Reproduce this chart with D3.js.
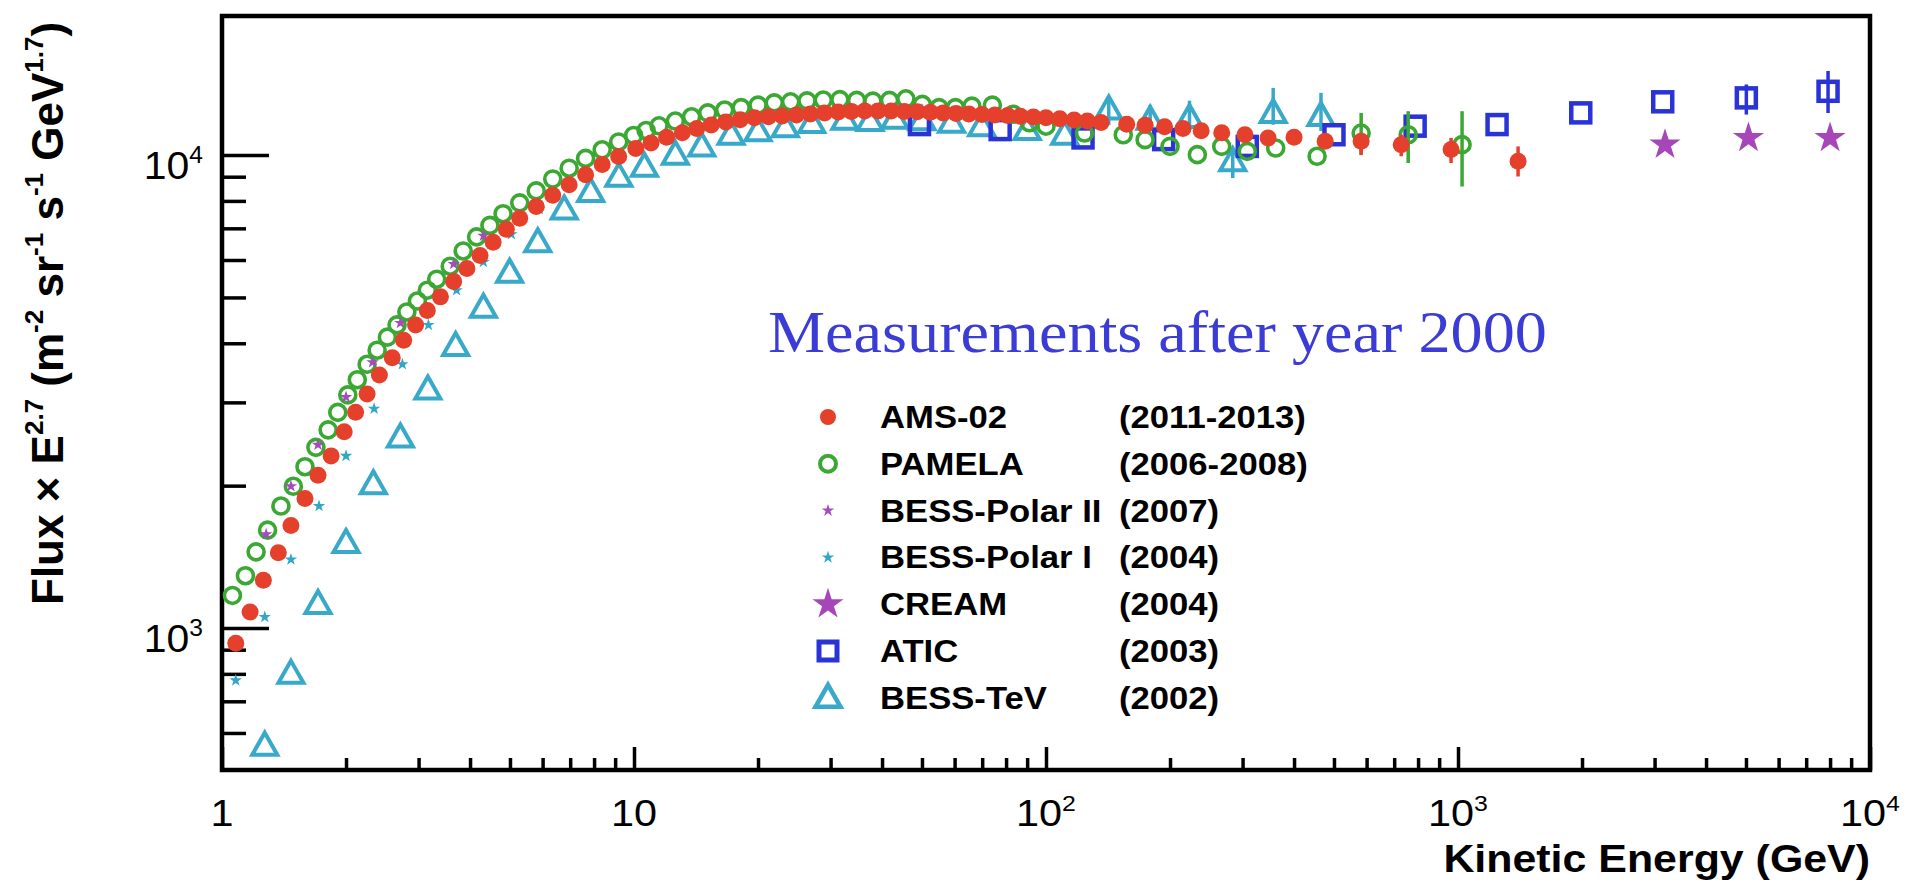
<!DOCTYPE html>
<html>
<head>
<meta charset="utf-8">
<script src="https://cdn.jsdelivr.net/npm/d3@7"></script>
<style>
  html, body { margin: 0; padding: 0; background: #fff; overflow: hidden; }
  svg { display: block; }
  text { font-family: "Liberation Sans", Arial, Helvetica, sans-serif; }
  text.serif { font-family: "Liberation Serif", "Times New Roman", Times, serif; }
</style>
</head>
<body>
<script>
// ---- data (kinetic energy in GeV, flux x E^2.7) ----
var amsE = [1.08, 1.17, 1.26, 1.37, 1.47, 1.59, 1.71, 1.84, 1.98, 2.11,
    2.25, 2.41, 2.59, 2.76, 2.95, 3.15, 3.39, 3.65, 3.93, 4.23,
    4.55, 4.90, 5.28, 5.79, 6.35, 6.96, 7.63, 8.37, 9.18, 10.1,
    11.0, 12.0, 13.1, 14.2, 15.4, 16.7, 18.1, 19.6, 21.2, 22.9,
    24.8, 26.8, 29.0, 31.3, 33.7, 36.3, 39.1, 42.1, 45.3, 48.7,
    52.4, 56.3, 60.5, 65.0, 69.9, 75.1, 80.7, 86.7, 93.2, 100,
    108, 117, 126, 136, 157, 174, 194, 215, 238,
    267, 304, 346, 400, 476, 582, 728, 962, 1399];
var amsF = [929, 1081, 1262, 1442, 1647, 1879, 2103, 2312, 2600, 2860,
    3125, 3426, 3727, 4058, 4372, 4693, 5014, 5405, 5757, 6134,
    6541, 6970, 7350, 7785, 8225, 8650, 9090, 9550, 9935, 10320,
    10600, 10900, 11150, 11380, 11580, 11750, 11880, 11990, 12050, 12100,
    12150, 12220, 12280, 12330, 12370, 12390, 12400, 12390, 12370, 12350,
    12320, 12280, 12250, 12210, 12180, 12150, 12120, 12080, 12040, 11990,
    11930, 11860, 11800, 11720, 11620, 11560, 11480, 11380, 11260,
    11150, 11040, 10870, 10900, 10690, 10690, 10520, 10270, 9700];
var amsErrE = [582, 728, 962, 1399];
var amsErrLo = [10000, 9940, 9620, 9010];
var amsErrHi = [11130, 11040, 10870, 10430];

var pamelaE = [1.06, 1.14, 1.21, 1.29, 1.39, 1.49, 1.59, 1.69, 1.81, 1.91,
    2.02, 2.13, 2.25, 2.38, 2.52, 2.66, 2.81, 2.98, 3.15, 3.32,
    3.58, 3.85, 4.15, 4.47, 4.81, 5.28, 5.79, 6.35, 6.96, 7.63,
    8.37, 9.18, 9.98, 10.7, 11.5, 12.6, 13.8, 15.1, 16.6, 18.2, 20.0,
    21.9, 24.0, 26.3, 28.8, 31.6, 34.7, 38.0, 41.7, 45.7, 50.1,
    55.0, 60.3, 66.1, 74.1, 83.2, 91.2, 100, 124, 154, 174,
    200, 233, 267, 308, 361, 455, 582, 757, 1023];
var pamelaF = [1172, 1290, 1449, 1611, 1811, 1994, 2193, 2410, 2624, 2857,
    3111, 3350, 3611, 3867, 4121, 4375, 4659, 4913, 5180, 5464,
    5821, 6270, 6714, 7100, 7516, 7925, 8400, 8900, 9380, 9840,
    10260, 10660, 11000, 11270, 11530, 11800, 12050, 12280, 12450, 12600, 12750,
    12890, 12960, 13020, 13070, 13100, 13050, 13000, 13050, 13150, 12800,
    12600, 12600, 12690, 12750, 12200, 11700, 11510, 11130, 11040, 10780,
    10430, 10020, 10430, 10180, 10350, 9940, 11130, 11040, 10520];
var pamelaErrE = [582, 757, 1023];
var pamelaErrLo = [10015, 9620, 8580];
var pamelaErrHi = [12280, 12380, 12380];

var polar2E = [1.28, 1.47, 1.71, 2.0, 2.32, 2.71, 3.65, 4.31];
var polar2F = [1579, 1994, 2440, 3078, 3648, 4416, 5885, 6750];

var polar1E = [1.08, 1.27, 1.47, 1.72, 2.0, 2.34, 2.74, 3.17, 3.71, 4.31, 5.04, 5.89];
var polar1F = [775, 1055, 1396, 1811, 2312, 2909, 3611, 4372, 5180, 5940, 6800, 7680];

var creamE = [3180, 5070, 8000];
var creamF = [10520, 10870, 10870];

var aticE = [49.3, 77.4, 123, 193, 308, 500, 787, 1244, 1986, 3140, 5010, 7910];
var aticF = [11600, 11320, 10870, 10780, 10430, 11040, 11510, 11600, 12280, 12960, 13210, 13640];
var aticErrE = [5010, 7910];
var aticErrLo = [12180, 12270];
var aticErrHi = [14100, 15060];

var tevE = [1.27, 1.47, 1.71, 2.0, 2.33, 2.71, 3.16, 3.69, 4.31, 4.99,
    5.84, 6.77, 7.85, 9.19, 10.6, 12.6, 14.6, 17.2, 20.0, 23.3,
    27.0, 32.5, 37.4, 43.0, 50.0, 59.0, 69.8, 90.0, 111, 142,
    179, 223, 284, 356, 465];
var tevF = [564, 800, 1124, 1513, 2014, 2529, 3193, 3947, 4757, 5636,
    6542, 7673, 8354, 8993, 9450, 10020, 10430, 11040, 11230, 11450,
    11690, 11880, 11800, 11940, 11850, 11700, 11510, 11300, 11040, 12480,
    11880, 11980, 9700, 12280, 12100];
var tevErrE = [142, 179, 223, 284, 356, 465];
var tevErrLo = [11580, 11240, 11300, 8940, 11590, 11240];
var tevErrHi = [13340, 12770, 13030, 10250, 13870, 13540];

var legendNames = ["AMS-02", "PAMELA", "BESS-Polar II", "BESS-Polar I", "CREAM", "ATIC", "BESS-TeV"];
var legendYears = ["(2011-2013)", "(2006-2008)", "(2007)", "(2004)", "(2004)", "(2003)", "(2002)"];

var xMajor = [1, 10, 100, 1000, 10000];
var yMajor = [1000, 10000];

// ---- layout ----
var W = 1907, H = 884;
var plot = { left: 222, right: 1870, top: 16, bottom: 770 };

var svg = d3.select("body").append("svg")
    .attr("width", W)
    .attr("height", H);

var x = d3.scaleLog().domain([1, 1e4]).range([plot.left, plot.right]);
var y = d3.scaleLog().domain([501, 19680]).range([plot.bottom, plot.top]);

svg.append("clipPath").attr("id", "plotclip")
    .append("rect")
    .attr("x", plot.left).attr("y", plot.top)
    .attr("width", plot.right - plot.left).attr("height", plot.bottom - plot.top);

// minor tick values
var xMinor = [];
[1, 10, 100, 1000].forEach(function (d) {
    for (var k = 2; k <= 9; k++) xMinor.push(d * k);
});
var yMinor = [600, 700, 800, 900, 2000, 3000, 4000, 5000, 6000, 7000, 8000, 9000];

// axes, ticks pointing into the frame
function cleanAxis(g) {
    g.select(".domain").remove();
    g.selectAll(".tick line").attr("stroke", "#000").attr("stroke-width", 3.5);
    g.selectAll(".tick text").remove();
}

svg.append("g")
    .attr("transform", "translate(0," + plot.bottom + ")")
    .call(d3.axisBottom(x).tickValues(xMinor).tickSize(-12).tickFormat(""))
    .call(cleanAxis);
svg.append("g")
    .attr("transform", "translate(0," + plot.bottom + ")")
    .call(d3.axisBottom(x).tickValues(xMajor).tickSize(-23).tickFormat(""))
    .call(cleanAxis);
svg.append("g")
    .attr("transform", "translate(" + plot.left + ",0)")
    .call(d3.axisLeft(y).tickValues(yMinor).tickSize(-24).tickFormat(""))
    .call(cleanAxis);
svg.append("g")
    .attr("transform", "translate(" + plot.left + ",0)")
    .call(d3.axisLeft(y).tickValues(yMajor).tickSize(-47).tickFormat(""))
    .call(cleanAxis);

// frame
svg.append("rect")
    .attr("x", plot.left).attr("y", plot.top)
    .attr("width", plot.right - plot.left).attr("height", plot.bottom - plot.top)
    .attr("fill", "none")
    .attr("stroke", "#000")
    .attr("stroke-width", 4.5);

// text placed at (px,py), stretched sideways like the source picture
function label(parent, px, py, size, anchor, sx) {
    return parent.append("text")
        .attr("transform", "translate(" + px + "," + py + ") scale(" + sx + ",1)")
        .attr("text-anchor", anchor)
        .attr("font-size", size)
        .attr("fill", "#000");
}

function powerLabel(parent, px, py, v, size, anchor, sx) {
    var e = Math.round(Math.log10(v));
    var t = label(parent, px, py, size, anchor, sx);
    if (e <= 1) {
        t.text(e === 0 ? "1" : "10");
    } else {
        t.append("tspan").text("10");
        t.append("tspan")
            .attr("font-size", size * 0.6)
            .attr("dy", -size * 0.4)
            .text(e);
    }
    return t;
}

var labels = svg.append("g");
xMajor.forEach(function (v) {
    powerLabel(labels, x(v), 826, v, 37, "middle", 1.12);
});
yMajor.forEach(function (v) {
    powerLabel(labels, 203, y(v) + 24, v, 39, "end", 1.05);
});

// axis titles
label(svg, plot.right, 872, 39, "end", 1.1)
    .attr("font-weight", "bold")
    .text("Kinetic Energy (GeV)");

var yTitle = svg.append("text")
    .attr("transform", "translate(63,605) rotate(-90)")
    .attr("font-size", 44)
    .attr("font-weight", "bold")
    .attr("fill", "#000");
var yParts = [["Flux \u00d7 E", 0], ["2.7", 1], [" (m", 0], ["-2", 1], [" sr", 0], ["-1", 1],
    [" s", 0], ["-1", 1], [" GeV", 0], ["1.7", 1], [")", 0]];
var up = false;
yParts.forEach(function (p) {
    var ts = yTitle.append("tspan").text(p[0]);
    if (p[1] && !up) { ts.attr("font-size", 26).attr("dy", -20); up = true; }
    else if (!p[1] && up) { ts.attr("dy", 20); up = false; }
});

// ---- markers ----
var colors = {
    ams: "#e4402c", pamela: "#3aa832", polar2: "#a44cbd", polar1: "#2fa7c9",
    cream: "#a646b8", atic: "#2a34d6", tev: "#38a9c9"
};

function zipPts(E, F) {
    return E.map(function (e, i) { return { e: e, f: F[i] }; });
}
function zipErr(E, lo, hi) {
    return E.map(function (e, i) { return { e: e, lo: lo[i], hi: hi[i] }; });
}

var marks = svg.append("g").attr("clip-path", "url(#plotclip)");

function errorBars(data, color) {
    marks.append("g").selectAll("line")
        .data(data)
        .enter()
        .append("line")
        .attr("x1", function (d) { return x(d.e); })
        .attr("x2", function (d) { return x(d.e); })
        .attr("y1", function (d) { return y(d.lo); })
        .attr("y2", function (d) { return y(d.hi); })
        .attr("stroke", color)
        .attr("stroke-width", 3.5);
}

var starSmall = d3.symbol().type(d3.symbolStar).size(48)();
var starBig = d3.symbol().type(d3.symbolStar).size(300)();
var trianglePath = "M0,-13L12.5,9L-12.5,9Z";

function symbols(data, pathStr, fill, stroke, sw) {
    marks.append("g").selectAll("path")
        .data(data)
        .enter()
        .append("path")
        .attr("d", pathStr)
        .attr("transform", function (d) { return "translate(" + x(d.e) + "," + y(d.f) + ")"; })
        .attr("fill", fill)
        .attr("stroke", stroke)
        .attr("stroke-width", sw);
}

// BESS-TeV
errorBars(zipErr(tevErrE, tevErrLo, tevErrHi), colors.tev);
symbols(zipPts(tevE, tevF), trianglePath, "none", colors.tev, 4);

// ATIC
errorBars(zipErr(aticErrE, aticErrLo, aticErrHi), colors.atic);
marks.append("g").selectAll("rect")
    .data(zipPts(aticE, aticF))
    .enter()
    .append("rect")
    .attr("x", function (d) { return x(d.e) - 9.5; })
    .attr("y", function (d) { return y(d.f) - 9.5; })
    .attr("width", 19)
    .attr("height", 19)
    .attr("fill", "none")
    .attr("stroke", colors.atic)
    .attr("stroke-width", 4.5);

// PAMELA
errorBars(zipErr(pamelaErrE, pamelaErrLo, pamelaErrHi), colors.pamela);
marks.append("g").selectAll("circle")
    .data(zipPts(pamelaE, pamelaF))
    .enter()
    .append("circle")
    .attr("cx", function (d) { return x(d.e); })
    .attr("cy", function (d) { return y(d.f); })
    .attr("r", 8)
    .attr("fill", "none")
    .attr("stroke", colors.pamela)
    .attr("stroke-width", 3.6);

// BESS-Polar I and II
symbols(zipPts(polar1E, polar1F), starSmall, colors.polar1, "none", 0);
symbols(zipPts(polar2E, polar2F), starSmall, colors.polar2, "none", 0);

// AMS-02
errorBars(zipErr(amsErrE, amsErrLo, amsErrHi), colors.ams);
marks.append("g").selectAll("circle")
    .data(zipPts(amsE, amsF))
    .enter()
    .append("circle")
    .attr("cx", function (d) { return x(d.e); })
    .attr("cy", function (d) { return y(d.f); })
    .attr("r", 8.5)
    .attr("fill", colors.ams);

// CREAM
symbols(zipPts(creamE, creamF), starBig, colors.cream, "none", 0);

// ---- annotation and legend ----
label(svg, 768, 352, 60, "start", 1.07)
    .attr("class", "serif")
    .attr("fill", "#3b3bd6")
    .text("Measurements after year 2000");

var legend = svg.append("g");
var legendX = 828, legendTop = 417, legendStep = 46.8;
var legendKeys = ["ams", "pamela", "polar2", "polar1", "cream", "atic", "tev"];

legendKeys.forEach(function (k, i) {
    var cy = legendTop + i * legendStep;
    var g = legend.append("g").attr("transform", "translate(" + legendX + "," + cy + ")");
    if (k === "ams") {
        g.append("circle").attr("r", 8).attr("fill", colors.ams);
    } else if (k === "pamela") {
        g.append("circle").attr("r", 8).attr("fill", "none")
            .attr("stroke", colors.pamela).attr("stroke-width", 4);
    } else if (k === "polar2" || k === "polar1") {
        g.append("path").attr("d", starSmall).attr("fill", colors[k]);
    } else if (k === "cream") {
        g.append("path").attr("d", starBig).attr("fill", colors.cream);
    } else if (k === "atic") {
        g.append("rect").attr("x", -9).attr("y", -9).attr("width", 18).attr("height", 18)
            .attr("fill", "none").attr("stroke", colors.atic).attr("stroke-width", 5);
    } else {
        g.append("path").attr("d", trianglePath).attr("fill", "none")
            .attr("stroke", colors.tev).attr("stroke-width", 4.5);
    }
    label(legend, 880, cy + 11, 31.5, "start", 1.1)
        .attr("font-weight", "bold")
        .text(legendNames[i]);
    label(legend, 1119, cy + 11, 31.5, "start", 1.1)
        .attr("font-weight", "bold")
        .text(legendYears[i]);
});
</script>
</body>
</html>
